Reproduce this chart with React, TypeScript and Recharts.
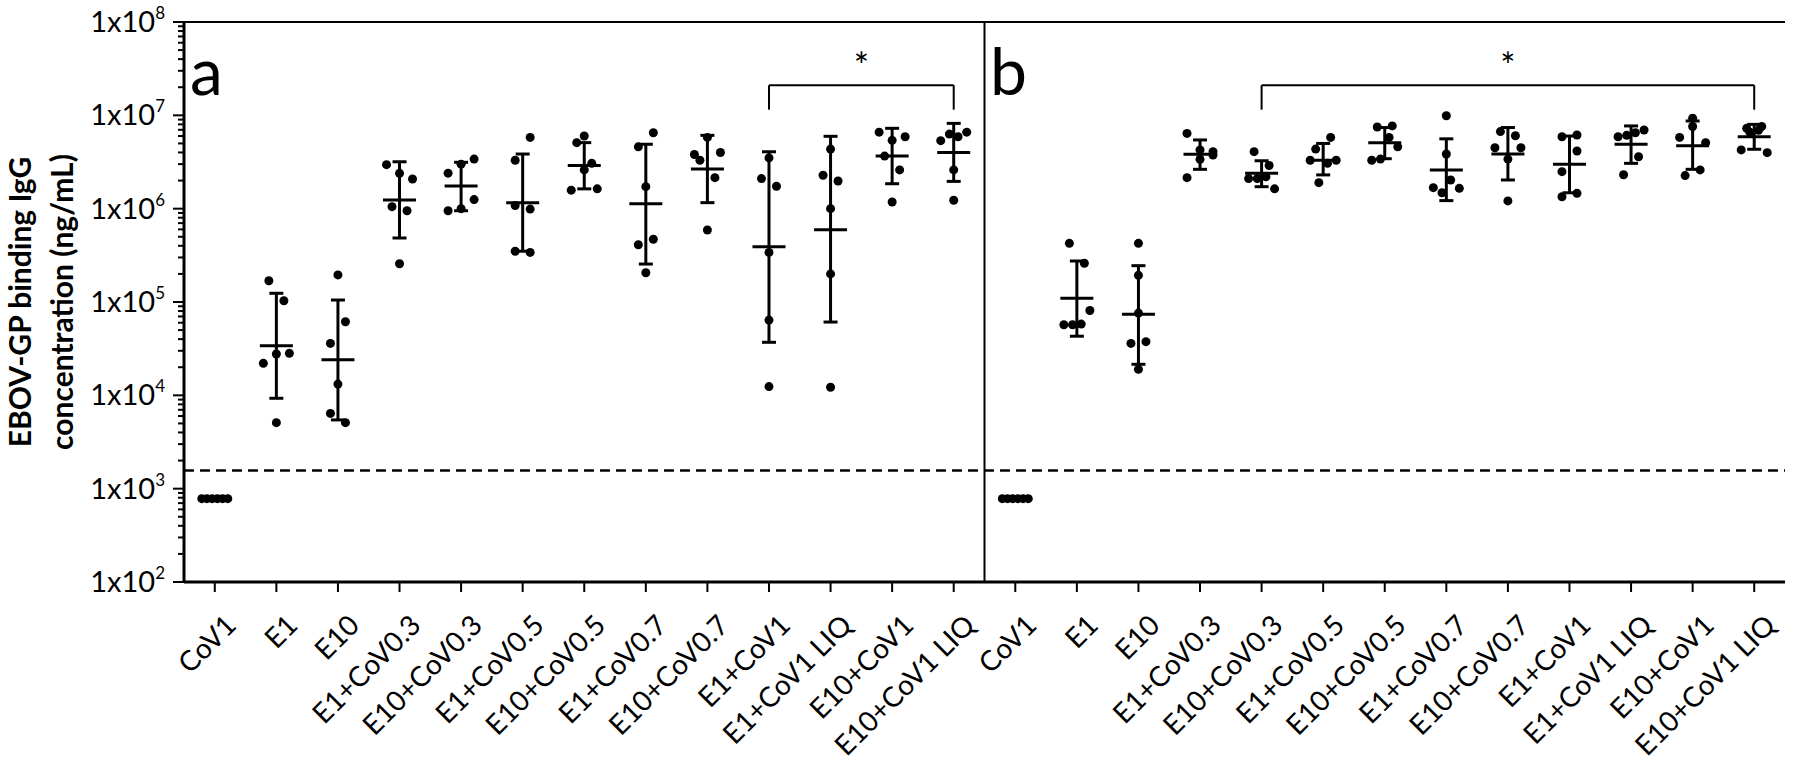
import React from "react";
import {
  ComposedChart,
  Scatter,
  XAxis,
  YAxis,
  ErrorBar,
  ReferenceLine,
  ReferenceDot,
} from "recharts";

const groups = [
  "CoV1",
  "E1",
  "E10",
  "E1+CoV0.3",
  "E10+CoV0.3",
  "E1+CoV0.5",
  "E10+CoV0.5",
  "E1+CoV0.7",
  "E10+CoV0.7",
  "E1+CoV1",
  "E1+CoV1 LIQ",
  "E10+CoV1",
  "E10+CoV1 LIQ",
];

// individual animals, panel a (ng/mL)
const panelA = [
  [781, 781, 781, 781, 781, 781],
  [1.69e5, 1.03e5, 2.2e4, 2.77e4, 2.82e4, 5.1e3],
  [1.95e5, 3.6e4, 6.15e4, 1.32e4, 6.4e3, 5.1e3],
  [2.96e6, 2.39e6, 2.08e6, 1.05e6, 9.5e5, 2.57e5],
  [2.4e6, 3.0e6, 3.4e6, 9.5e5, 1.0e6, 1.25e6],
  [3.3e6, 5.8e6, 1.08e6, 9.9e5, 3.5e5, 3.4e5],
  [6.0e6, 5.1e6, 3.06e6, 1.58e6, 2.6e6, 1.63e6],
  [4.6e6, 6.5e6, 1.72e6, 4.1e5, 4.7e5, 2.06e5],
  [3.8e6, 3.3e6, 5.8e6, 4.0e6, 2.15e6, 5.9e5],
  [3.5e6, 2.1e6, 1.74e6, 3.4e5, 6.4e4, 1.24e4],
  [4.35e6, 2.28e6, 1.98e6, 1.0e6, 2.0e5, 1.22e4],
  [6.6e6, 5.4e6, 5.9e6, 3.66e6, 2.6e6, 1.18e6],
  [5.35e6, 6.3e6, 5.9e6, 6.6e6, 2.6e6, 1.23e6],
];
const meanA = [781, 3.4e4, 2.4e4, 1.24e6, 1.75e6, 1.16e6, 2.9e6, 1.13e6, 2.66e6, 3.9e5, 5.96e5, 3.66e6, 4.0e6];
const lowA = [781, 9.3e3, 5.45e3, 4.85e5, 9.5e5, 3.5e5, 1.63e6, 2.55e5, 1.16e6, 3.7e4, 6.1e4, 1.85e6, 1.96e6];
const highA = [781, 1.24e5, 1.05e5, 3.18e6, 3.14e6, 3.85e6, 5.1e6, 4.9e6, 6.1e6, 4.07e6, 5.96e6, 7.26e6, 8.2e6];

// individual animals, panel b (ng/mL)
const panelB = [
  [781, 781, 781, 781, 781, 781],
  [4.25e5, 2.6e5, 5.7e4, 5.7e4, 5.8e4, 8.1e4],
  [4.25e5, 1.93e5, 7.6e4, 3.6e4, 3.76e4, 1.9e4],
  [6.4e6, 4.26e6, 4.08e6, 2.15e6, 3.38e6, 3.76e6],
  [4.08e6, 2.9e6, 2.1e6, 2.1e6, 2.2e6, 1.63e6],
  [4.35e6, 5.8e6, 3.3e6, 1.9e6, 3.06e6, 3.3e6],
  [7.5e6, 7.7e6, 3.3e6, 3.4e6, 5.8e6, 4.6e6],
  [9.9e6, 3.85e6, 1.68e6, 1.48e6, 2.03e6, 1.65e6],
  [6.7e6, 6.05e6, 4.5e6, 3.4e6, 4.5e6, 1.21e6],
  [5.9e6, 6.15e6, 2.49e6, 4.15e6, 1.34e6, 1.46e6],
  [5.9e6, 6.1e6, 6.5e6, 6.97e6, 2.31e6, 3.6e6],
  [9.3e6, 5.8e6, 7.6e6, 5.1e6, 2.26e6, 2.6e6],
  [4.26e6, 6.6e6, 6.9e6, 3.98e6, 7.26e6, 7.6e6],
];
const meanB = [781, 1.1e5, 7.4e4, 3.82e6, 2.39e6, 3.3e6, 5.1e6, 2.6e6, 3.85e6, 3.0e6, 4.9e6, 4.73e6, 5.9e6];
const lowB = [781, 4.3e4, 2.15e4, 2.64e6, 1.72e6, 2.3e6, 3.43e6, 1.22e6, 2.03e6, 1.48e6, 3.06e6, 2.64e6, 4.33e6];
const highB = [781, 2.75e5, 2.45e5, 5.45e6, 3.26e6, 5.0e6, 7.4e6, 5.6e6, 7.4e6, 6.0e6, 7.7e6, 8.7e6, 8.0e6];

const LOD = 1563;
const majorTicks = [1e2, 1e3, 1e4, 1e5, 1e6, 1e7, 1e8];

// significance brackets: [from group, to group] per panel
const bracketA = [9, 12];
const bracketB = [4, 12];
const BR_TOP = 2.1e7;
const BR_LEG = 1.15e7;
const STAR_Y = 4.0e7;

const W = 1800;
const H = 763;
const M = { top: 22, right: 15, bottom: 0, left: 0 };
const Y_AXIS_W = 184;
const X_AXIS_H = 181;
const PLOT_W = W - M.left - M.right - Y_AXIS_W;
const PLOT_H = H - M.top - M.bottom - X_AXIS_H;
const N_CAT = groups.length * 2;
const FONT = "Lato, 'Open Sans', sans-serif";

// GraphPad-like column scatter: points with close values share a row
function swarmOffsets(vals: number[]): number[] {
  const pxPerDec = PLOT_H / 6;
  const catPx = PLOT_W / N_CAT;
  const ys = vals.map((v) => -Math.log10(v) * pxPerDec);
  const order = vals.map((_, i) => i).sort((a, b) => ys[b] - ys[a]);
  const rows: number[][] = [];
  for (const i of order) {
    const row = rows[rows.length - 1];
    if (row && ys[row[0]] - ys[i] <= 23) row.push(i);
    else rows.push([i]);
  }
  const off = new Array(vals.length).fill(0);
  rows.forEach((row) => {
    row.sort((a, b) => a - b);
    const n = row.length;
    const step = n > 1 ? Math.min(15, 26 / (n - 1)) : 0;
    row.forEach((idx, j) => {
      off[idx] = (j - (n - 1) / 2) * step;
    });
  });
  return off.map((o) => o / catPx);
}

const panels = [
  { pts: panelA, mean: meanA, low: lowA, high: highA },
  { pts: panelB, mean: meanB, low: lowB, high: highB },
];

const points: { x: number; y: number }[] = [];
const means: { x: number; y: number; err: number[] }[] = [];
panels.forEach((p, pi) => {
  p.pts.forEach((vals, g) => {
    const center = pi * groups.length + g + 0.5;
    const offs = swarmOffsets(vals);
    vals.forEach((v, k) => points.push({ x: center + offs[k], y: v }));
    means.push({
      x: center,
      y: p.mean[g],
      err: [p.mean[g] - p.low[g], p.high[g] - p.mean[g]],
    });
  });
});

const xTicks = Array.from({ length: N_CAT }, (_, i) => i + 0.5);
const minorTicks: number[] = [];
for (let d = 2; d < 8; d++) {
  for (let m = 2; m <= 9; m++) minorTicks.push(m * Math.pow(10, d));
}
const yTicks = [...majorTicks, ...minorTicks].sort((a, b) => a - b);

const isMajor = (v: number) => majorTicks.some((t) => Math.abs(t - v) < t * 1e-6);

const LeftTick = (props: any) => {
  const { x, y, payload } = props;
  const v = payload.value;
  const major = isMajor(v);
  return (
    <g>
      <line x1={x} x2={x - (major ? 11 : 6)} y1={y} y2={y} stroke="#000" strokeWidth={2} />
      {major && (
        <text x={x - 19} y={y + 10} textAnchor="end" fontSize={29} fontFamily={FONT} fill="#000">
          1x10
          <tspan fontSize={17} dy={-13}>
            {Math.round(Math.log10(v))}
          </tspan>
        </text>
      )}
    </g>
  );
};

const RightTick = (props: any) => {
  const { x, y, payload } = props;
  const major = isMajor(payload.value);
  return <line x1={x} x2={x + (major ? 10 : 6)} y1={y} y2={y} stroke="#000" strokeWidth={2} />;
};

const XTick = (props: any) => {
  const { x, y, payload } = props;
  const label = groups[Math.floor(payload.value) % groups.length];
  return (
    <g>
      <line x1={x} x2={x} y1={y} y2={y + 10} stroke="#000" strokeWidth={2} />
      <text
        transform={`translate(${x + 23},${y + 45}) rotate(-45)`}
        textAnchor="end"
        fontSize={28}
        fontFamily={FONT}
        fill="#000"
      >
        {label}
      </text>
    </g>
  );
};

const Dot = (props: any) => <circle cx={props.cx} cy={props.cy} r={4.5} fill="#000" />;
const MeanLine = (props: any) => (
  <line x1={props.cx - 16.5} x2={props.cx + 16.5} y1={props.cy} y2={props.cy} stroke="#000" strokeWidth={3} />
);
const Star = (props: any) => (
  <text x={props.cx} y={props.cy + 20} textAnchor="middle" fontSize={36} fontFamily={FONT} fill="#000">
    *
  </text>
);

function bracket(offset: number, [from, to]: number[], key: string) {
  const x1 = offset + from + 0.5;
  const x2 = offset + to + 0.5;
  const line = { stroke: "#000", strokeWidth: 2, yAxisId: "left", ifOverflow: "visible" as const };
  return [
    <ReferenceLine key={key + "t"} {...line} segment={[{ x: x1, y: BR_TOP }, { x: x2, y: BR_TOP }]} />,
    <ReferenceLine key={key + "l"} {...line} segment={[{ x: x1, y: BR_TOP }, { x: x1, y: BR_LEG }]} />,
    <ReferenceLine key={key + "r"} {...line} segment={[{ x: x2, y: BR_TOP }, { x: x2, y: BR_LEG }]} />,
    <ReferenceDot key={key + "s"} x={(x1 + x2) / 2} y={STAR_Y} yAxisId="left" shape={Star} ifOverflow="visible" />,
  ];
}

export default function App() {
  return (
    <div style={{ position: "absolute", left: 0, top: 0, width: W, height: H, background: "#fff" }}>
      <ComposedChart width={W} height={H} margin={M}>
        <XAxis
          type="number"
          dataKey="x"
          domain={[0, N_CAT]}
          allowDataOverflow
          ticks={xTicks}
          interval={0}
          tick={<XTick />}
          tickLine={false}
          tickSize={0}
          tickMargin={0}
          height={X_AXIS_H}
          axisLine={{ stroke: "#000", strokeWidth: 3 }}
        />
        <YAxis
          yAxisId="left"
          dataKey="y"
          scale="log"
          domain={[1e2, 1e8]}
          allowDataOverflow
          ticks={yTicks}
          interval={0}
          tick={<LeftTick />}
          tickLine={false}
          tickSize={0}
          tickMargin={0}
          width={Y_AXIS_W}
          axisLine={{ stroke: "#000", strokeWidth: 3 }}
        />
        <YAxis
          yAxisId="right"
          orientation="right"
          dataKey="y"
          scale="log"
          domain={[1e2, 1e8]}
          allowDataOverflow
          ticks={yTicks}
          interval={0}
          tick={<RightTick />}
          tickLine={false}
          tickSize={0}
          tickMargin={0}
          width={0}
          axisLine={{ stroke: "#000", strokeWidth: 3 }}
        />
        <ReferenceLine yAxisId="left" y={1e8} stroke="#000" strokeWidth={2} />
        <ReferenceLine yAxisId="left" x={groups.length} stroke="#000" strokeWidth={2} />
        <ReferenceLine yAxisId="left" y={LOD} stroke="#000" strokeWidth={2.5} strokeDasharray="10 6" />
        {bracket(0, bracketA, "a")}
        {bracket(groups.length, bracketB, "b")}
        <Scatter data={means} yAxisId="left" shape={MeanLine} isAnimationActive={false}>
          <ErrorBar
            dataKey="err"
            direction="y"
            width={7}
            stroke="#000"
            strokeWidth={3}
            isAnimationActive={false}
          />
        </Scatter>
        <Scatter data={points} yAxisId="left" shape={Dot} isAnimationActive={false} />
      </ComposedChart>
      <svg
        width={W}
        height={H}
        style={{ position: "absolute", left: 0, top: 0, pointerEvents: "none" }}
      >
        <g fontFamily={FONT} fontWeight="bold" fontSize={30} fill="#000" textAnchor="middle">
          <text transform="translate(31,302) rotate(-90)">EBOV-GP binding IgG</text>
          <text transform="translate(73,302) rotate(-90)">concentration (ng/mL)</text>
        </g>
        <g fontFamily={FONT} fontSize={66} fill="#000">
          <text x={190} y={95}>a</text>
          <text x={990} y={95}>b</text>
        </g>
      </svg>
    </div>
  );
}
